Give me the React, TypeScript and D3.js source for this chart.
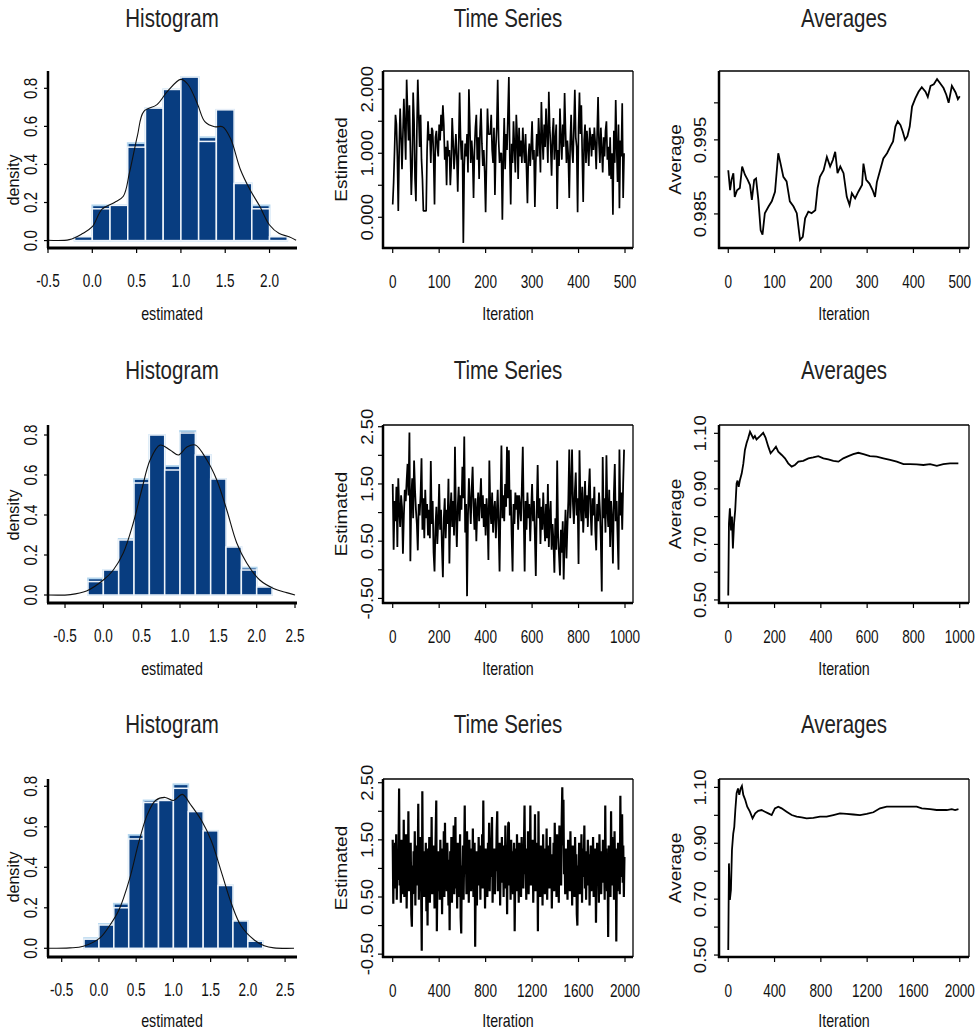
import React, { useEffect, useRef } from 'react';
import * as d3 from 'd3';

// histogram bins (shared by all three rows)
const binEdges = [-0.2, 0, 0.2, 0.4, 0.6, 0.8, 1.0, 1.2, 1.4, 1.6, 1.8, 2.0, 2.2];

const histOutline1 = [0.02, 0.185, 0.185, 0.512, 0.696, 0.794, 0.859, 0.543, 0.687, 0.30, 0.185, 0.02];
const histFill1 = [0.02, 0.167, 0.185, 0.491, 0.696, 0.794, 0.859, 0.521, 0.687, 0.30, 0.167, 0.02];
const histOutline2 = [0.083, 0.125, 0.28, 0.58, 0.80, 0.645, 0.82, 0.70, 0.58, 0.24, 0.137, 0.04];
const histFill2 = [0.067, 0.125, 0.275, 0.56, 0.80, 0.625, 0.81, 0.70, 0.58, 0.24, 0.125, 0.04];
const histOutline3 = [0.05, 0.12, 0.22, 0.56, 0.73, 0.73, 0.81, 0.675, 0.58, 0.31, 0.135, 0.035];
const histFill3 = [0.045, 0.115, 0.20, 0.54, 0.72, 0.73, 0.79, 0.675, 0.58, 0.31, 0.135, 0.035];

// kernel density curves [x, density]
const dens1 = [[-0.5, 0.002], [-0.26, 0.005], [-0.11, 0.037], [0.0, 0.073], [0.11, 0.165], [0.25, 0.2], [0.35, 0.233],
  [0.42, 0.358], [0.51, 0.553], [0.58, 0.678], [0.73, 0.714], [0.85, 0.785], [1.0, 0.847], [1.08, 0.82], [1.19, 0.714],
  [1.27, 0.625], [1.38, 0.598], [1.47, 0.598], [1.56, 0.536], [1.67, 0.375], [1.78, 0.267], [1.89, 0.18], [2.0, 0.082],
  [2.11, 0.037], [2.22, 0.02], [2.3, 0.002]];
const dens2 = [[-0.72, 0], [-0.43, 0.002], [-0.22, 0.02], [0.0, 0.075], [0.13, 0.125], [0.26, 0.21], [0.39, 0.36],
  [0.5, 0.525], [0.61, 0.675], [0.74, 0.75], [0.87, 0.725], [0.98, 0.70], [1.09, 0.74], [1.2, 0.75], [1.35, 0.675],
  [1.48, 0.575], [1.61, 0.425], [1.74, 0.26], [1.87, 0.16], [2.04, 0.075], [2.22, 0.033], [2.39, 0.012], [2.5, 0.0]];
const dens3 = [[-0.68, 0], [-0.39, 0.002], [-0.21, 0.01], [0.01, 0.05], [0.14, 0.11], [0.27, 0.19], [0.41, 0.34],
  [0.54, 0.53], [0.65, 0.66], [0.76, 0.73], [0.89, 0.745], [1.0, 0.73], [1.12, 0.76], [1.23, 0.71], [1.38, 0.63],
  [1.51, 0.53], [1.65, 0.37], [1.78, 0.22], [1.91, 0.11], [2.09, 0.04], [2.22, 0.013], [2.35, 0.002], [2.62, 0]];

// sampled chains (one value every traceStep iterations)
const traceStep1 = 2;
const trace1 = [
  0.20, 0.55, 1.05, 1.60, 1.45, 0.95, 0.10, 1.10, 1.70, 1.25,
  0.75, 1.30, 1.85, 1.40, 0.90, 2.15, 1.65, 1.20, 1.75, 1.05,
  0.35, 0.80, 1.95, 1.50, 0.60, 0.25, 1.35, 2.15, 1.60, 1.10,
  1.60, 0.90, 0.60, 0.10, 0.10, 0.10, 0.10, 1.05, 1.50, 1.20,
  1.30, 0.85, 1.40, 1.35, 0.95, 0.20, 1.25, 1.35, 1.10, 0.95,
  1.45, 1.20, 1.60, 1.35, 1.75, 1.45, 0.90, 1.10, 0.50, 1.20,
  0.95, 1.05, 0.50, 0.85, 1.55, 1.20, 0.75, 1.00, 1.30, 0.95,
  0.40, 1.10, 1.95, 1.25, 0.90, 1.20, -0.40, 0.80, 1.15, 0.95,
  1.30, 0.70, 2.00, 1.45, 0.85, 1.20, 0.95, 0.30, 1.05, 1.40,
  1.60, 0.90, 1.25, 0.60, 1.35, 1.70, 1.15, 0.80, 1.05, 0.70,
  0.08, 0.90, 1.70, 1.30, 1.30, 1.30, 1.60, 1.05, 0.85, 1.40,
  0.35, 1.10, 1.40, 2.15, 1.20, 0.85, 1.00, 1.00, -0.04, 0.90,
  1.55, 0.75, 1.30, 1.05, 1.60, 2.19, 0.95, 0.20, 1.15, 0.85,
  1.50, 1.10, 0.70, 1.60, 1.25, 0.60, 1.40, 0.95, 1.20, 0.85,
  1.40, 1.05, 0.85, 1.30, 0.75, 0.22, 0.95, 1.15, 0.80, 1.10,
  1.50, 0.90, 1.05, 0.16, 0.85, 1.30, 0.95, 1.55, 1.20, 0.70,
  1.80, 1.25, 0.90, 1.45, 1.10, 1.70, 1.30, 0.85, 1.96, 1.40,
  1.10, 0.65, 1.30, 1.55, 0.90, 1.20, 1.45, 0.13, 1.05, 0.80,
  1.70, 1.25, 0.90, 1.45, 1.10, 1.94, 1.35, 0.85, 1.20, 0.95,
  0.30, 1.15, 1.60, 1.05, 0.85, 1.40, 1.99, 1.25, 1.10, 0.08,
  1.40, 1.95, 1.30, 1.75, 0.95, 0.24, 1.20, 1.45, 0.85, 1.35,
  1.10, 0.80, 1.40, 1.25, 0.95, 1.30, 1.05, 1.40, 1.15, 0.75,
  1.30, 1.88, 1.15, 0.85, 1.40, 1.05, 0.70, 1.25, 0.95, 1.35,
  1.50, 0.90, 1.10, 0.65, 1.25, 0.60, 1.00, 0.04, 1.35, 0.85,
  1.83, 1.10, 0.55, 1.45, 0.14, 1.20, 0.95, 1.78, 0.30, 1.00];

const traceStep2 = 4;
const trace2 = [
  1.50, 0.35, 1.20, 0.85, 1.45, 0.40, 1.60, 1.05, 0.75, 1.30,
  1.10, 0.28, 0.95, 1.40, 1.20, 1.55, 1.85, 1.30, 2.40, 0.15,
  1.25, 1.60, 0.90, 1.91, 1.40, 1.05, 0.80, 0.34, 1.15, 0.95,
  1.30, 1.95, 0.70, 1.25, 0.55, 1.40, 0.90, 1.15, 0.60, 1.05,
  0.55, 1.90, 0.80, 1.20, 0.30, -0.03, 0.75, 1.10, 0.45, 0.85,
  1.50, 0.70, 1.05, 0.40, -0.13, 0.90, 1.25, 0.55, 1.05, 0.80,
  1.59, 0.11, 1.00, 1.35, 0.75, 1.20, 0.60, 2.15, 0.95, 0.40,
  1.10, 1.45, 0.85, 1.30, 1.05, 1.80, 1.25, 2.33, 0.65, 1.15,
  -0.46, 0.95, 1.60, 1.20, 0.80, 1.40, 1.80, 1.10, 0.70, 1.25,
  0.50, 1.05, 1.35, 0.85, 1.20, 1.60, 0.90, 1.30, 0.75, 1.15,
  0.60, 1.25, 0.95, 0.17, 1.91, 1.10, 0.80, 1.35, 0.65, 1.05,
  1.20, 0.55, 1.00, 1.40, 0.75, -0.03, 1.15, 2.17, 0.90, 1.30,
  0.85, 1.50, 1.10, 2.15, 1.25, 2.09, 0.95, 1.40, 0.60, -0.03,
  1.15, 0.80, 1.35, 1.05, 1.30, 0.70, 1.30, 1.10, 0.85, 1.45,
  2.15, 0.95, -0.03, 1.20, 0.70, 1.35, 0.90, 1.15, 0.50, 1.05,
  1.50, 0.85, 1.20, 0.60, -0.11, 1.05, 1.83, 0.90, 1.25, 0.45,
  1.10, 0.70, 1.35, 0.85, 0.50, 1.15, 0.55, 1.50, 0.40, 0.95,
  1.20, 0.35, 0.80, 0.50, -0.05, 0.90, 0.35, 1.91, 0.60, 0.25,
  -0.10, 0.70, 0.30, 0.85, -0.17, 0.55, 1.05, 0.20, 0.75, 1.20,
  2.10, 0.90, 1.40, 2.10, 1.15, 0.80, 1.35, 1.70, 0.95, 1.25,
  0.10, 2.09, 1.20, 0.85, 1.45, 0.65, 1.10, 1.55, 0.90, 1.30,
  0.75, 1.40, 1.77, 1.00, 0.60, 1.25, 0.95, 1.45, 0.70, 0.34,
  1.15, 0.85, 1.35, 1.05, 0.50, -0.38, 1.97, 0.90, 1.25, 0.65,
  2.00, 1.05, 0.75, 1.40, 0.40, 1.20, 0.90, 0.11, 1.30, 1.85,
  0.85, 1.20, 0.60, 0.00, 2.10, 0.95, 1.35, 0.70, 1.50, 2.10];

const traceStep3 = 5;
const trace3 = [
  1.50, 0.38, 1.20, 0.65, 1.45, 0.90, 1.60, 0.45, 1.10, 0.80,
  1.30, 2.40, 0.70, 1.15, 0.40, 1.50, 0.95, 1.25, 0.55, 1.85,
  0.50, 1.35, 0.85, 1.60, 0.30, 1.10, 0.75, 2.00, 0.60, 1.20,
  0.90, 1.45, 0.20, -0.02, 1.05, 0.55, 1.30, 0.80, 1.65, 0.35,
  1.15, 0.70, 1.40, 0.95, 2.13, 0.45, 1.25, 0.85, 1.55, 0.60,
  -0.44, 2.35, 0.75, 1.30, 0.50, 1.10, 0.90, 1.45, 0.25, 1.20,
  0.00, 1.35, 0.80, 1.55, 0.40, 1.15, 0.70, 1.90, 0.55, 1.25,
  0.95, 1.40, 0.30, 1.05, 1.60, 2.19, -0.10, 0.85, 1.30, 0.60,
  1.20, 0.45, 1.50, 0.90, 1.35, 0.20, 1.10, 0.75, 1.65, 0.50,
  1.80, 0.85, 1.25, 0.60, 1.45, 0.95, 0.35, 1.15, -0.08, 1.30,
  0.70, 1.55, 0.40, 1.20, 0.85, 1.75, 0.55, 1.35, 1.90, 0.65,
  1.10, 0.30, 1.45, 0.80, 1.25, 0.50, 1.60, 0.15, -0.14, 1.05,
  0.75, 1.40, 0.45, 1.20, 2.10, 0.90, 1.30, 0.55, 1.65, 0.85,
  1.15, 0.40, 1.50, 0.95, 1.25, 0.60, 1.35, 0.80, 1.70, 0.50,
  1.05, 1.45, -0.37, 0.85, 1.30, 0.35, 1.15, 0.70, 1.55, 0.90,
  1.25, 0.45, 1.40, 0.95, 1.60, 0.65, 2.19, 0.80, 1.20, 0.30,
  1.35, 0.75, 1.10, 0.50, 1.45, 0.90, 1.80, 0.60, 1.25, 0.85,
  1.50, 1.90, 0.40, 1.15, 0.70, 1.35, 0.55, 1.20, 0.95, 1.65,
  2.00, 0.60, 1.30, 0.85, 1.45, 0.35, 1.10, 0.75, 1.55, 0.90,
  1.25, 0.50, 1.40, 0.80, 1.75, 0.65, 1.15, 0.20, 1.35, 1.80,
  1.80, 0.70, 1.20, 0.45, 1.50, 0.90, 1.30, 0.55, 1.05, 1.45,
  -0.10, 0.85, 1.35, 0.60, 1.60, 0.95, 1.20, 0.40, 1.45, 0.75,
  1.10, 0.50, 1.55, 0.85, 1.30, 0.65, 1.40, 2.10, 0.90, 1.20,
  0.45, 1.35, 0.80, 1.65, 0.55, 1.15, 0.95, 2.10, 0.70, 1.25,
  0.85, 1.50, 0.40, 1.20, 0.75, 1.95, 0.60, 1.30, 0.95, 1.45,
  -0.10, 2.00, 0.70, 1.10, 0.50, 1.40, 0.85, 1.25, 0.35, 1.60,
  0.90, 1.35, 0.55, 1.15, 0.80, 1.70, 0.45, 1.20, 0.95, 1.40,
  0.65, 1.55, 0.85, 1.25, 0.30, 1.10, 0.75, 1.45, 0.60, 1.80,
  0.95, 1.30, 0.50, 1.60, 0.80, 1.20, 0.40, 1.75, 1.05, 1.50,
  0.70, 1.85, 2.42, 1.40, 2.20, 0.90, 1.25, 0.55, 1.35, 0.80,
  1.15, 0.45, 1.50, 0.85, 1.30, 0.60, 1.65, 0.95, 1.20, 0.35,
  1.40, 0.75, 1.10, 0.50, 1.55, 0.90, 1.25, 0.20, 0.00, 1.05,
  0.80, 1.45, 0.55, 1.20, 0.95, 1.60, 0.40, 1.35, 0.85, 1.15,
  1.75, 0.65, 1.30, 0.45, 1.15, 0.90, 1.50, 0.70, 1.25, 0.35,
  1.05, 1.40, 0.60, 1.20, 0.80, 1.55, 0.50, 1.10, 0.95, 1.35,
  0.05, 0.85, 1.45, 0.70, 1.25, 0.40, 1.60, 0.90, 1.15, 0.55,
  1.30, 0.75, 1.50, 0.95, 1.20, 0.45, 2.10, 0.80, 1.35, 0.60,
  1.10, -0.20, 1.40, 0.85, 1.25, 0.50, 2.00, 0.70, 1.55, 0.95,
  1.20, 0.45, 1.65, 0.80, 1.35, -0.28, 1.05, 0.60, 1.45, 0.90,
  1.30, 0.55, 2.27, 0.85, 1.60, 1.95, 0.75, 1.40, 0.50, 1.20];

// running averages [iteration, average]
const avg1 = [[0, 0.9909], [4, 0.9882], [7, 0.9896], [11, 0.9905], [14, 0.9873], [19, 0.9882], [25, 0.9885],
  [30, 0.9914], [36, 0.9903], [42, 0.9896], [47, 0.9889], [51, 0.9869], [56, 0.9896], [60, 0.9898], [65, 0.9869],
  [70, 0.9828], [74, 0.9822], [79, 0.9851], [87, 0.986], [94, 0.9867], [101, 0.988], [108, 0.9932], [113, 0.9918],
  [119, 0.99], [126, 0.9894], [133, 0.9867], [141, 0.986], [148, 0.9851], [155, 0.9815], [161, 0.9819],
  [166, 0.9844], [173, 0.9853], [180, 0.9851], [188, 0.9855], [193, 0.9885], [198, 0.99], [206, 0.9909],
  [213, 0.9927], [220, 0.9914], [226, 0.9923], [231, 0.9934], [236, 0.9905], [242, 0.9914], [249, 0.9905],
  [256, 0.9873], [262, 0.9862], [267, 0.9878], [274, 0.9871], [281, 0.988], [289, 0.9889], [292, 0.9918],
  [298, 0.9896], [305, 0.9891], [312, 0.9882], [317, 0.9873], [321, 0.9893], [328, 0.9909], [335, 0.9925],
  [343, 0.9932], [350, 0.9941], [356, 0.9948], [361, 0.9968], [366, 0.9975], [372, 0.997], [377, 0.9961],
  [382, 0.995], [387, 0.9955], [392, 0.9968], [397, 0.9995], [404, 1.0006], [411, 1.0015], [418, 1.0021],
  [426, 1.0015], [431, 1.0008], [437, 1.0023], [444, 1.0025], [451, 1.0032], [458, 1.0026], [465, 1.002],
  [471, 1.0011], [476, 1.0], [483, 1.0023], [491, 1.0014], [496, 1.0005], [500, 1.0009]];
const avg2 = [[0, 0.516], [3, 0.775], [7, 0.83], [12, 0.75], [16, 0.8], [20, 0.685], [25, 0.775], [30, 0.823],
  [36, 0.92], [40, 0.93], [45, 0.907], [50, 0.93], [58, 0.955], [65, 0.99], [72, 1.04], [79, 1.064], [86, 1.082],
  [94, 1.106], [101, 1.094], [108, 1.082], [115, 1.09], [122, 1.078], [137, 1.09], [151, 1.102], [161, 1.085],
  [173, 1.052], [183, 1.028], [195, 1.04], [206, 1.052], [216, 1.034], [231, 1.022], [245, 1.01], [259, 0.992],
  [274, 0.98], [288, 0.986], [303, 0.998], [324, 1.001], [346, 1.01], [367, 1.013], [389, 1.018], [411, 1.01],
  [432, 1.006], [454, 1.001], [476, 0.998], [497, 1.01], [519, 1.018], [540, 1.025], [562, 1.03], [584, 1.025],
  [612, 1.018], [641, 1.016], [670, 1.01], [699, 1.004], [728, 0.998], [757, 0.989], [785, 0.989], [814, 0.988],
  [843, 0.986], [872, 0.989], [901, 0.983], [929, 0.989], [958, 0.992], [994, 0.992]];
const avg3 = [[0, 0.518], [6, 0.828], [14, 0.697], [23, 0.733], [32, 0.876], [43, 0.935], [52, 0.959],
  [61, 1.019], [72, 1.079], [84, 1.096], [95, 1.073], [107, 1.096], [118, 1.105], [130, 1.073], [147, 1.055],
  [164, 1.031], [187, 1.013], [210, 0.989], [233, 1.007], [259, 1.016], [288, 1.019], [317, 1.013], [346, 1.007],
  [375, 1.001], [403, 1.025], [432, 1.031], [461, 1.025], [504, 1.013], [548, 1.001], [591, 0.995], [634, 0.993],
  [677, 0.989], [735, 0.991], [793, 0.995], [850, 0.995], [908, 1.001], [965, 1.007], [1023, 1.005],
  [1081, 1.003], [1138, 1.001], [1196, 1.005], [1254, 1.011], [1311, 1.025], [1369, 1.031], [1455, 1.031],
  [1542, 1.031], [1628, 1.031], [1672, 1.025], [1744, 1.022], [1801, 1.019], [1888, 1.019], [1931, 1.022],
  [1960, 1.019], [1989, 1.022]];

// axis ticks
const histXTicks1 = [-0.5, 0, 0.5, 1.0, 1.5, 2.0];
const histXTicks23 = [-0.5, 0, 0.5, 1.0, 1.5, 2.0, 2.5];
const histYTicks = [0, 0.2, 0.4, 0.6, 0.8];
const tsXTicks1 = [0, 100, 200, 300, 400, 500];
const tsXTicks2 = [0, 200, 400, 600, 800, 1000];
const tsXTicks3 = [0, 400, 800, 1200, 1600, 2000];
const tsYTicks1 = [0, 0.5, 1.0, 1.5, 2.0];
const tsYLabels1 = [0, 1.0, 2.0];
const tsYTicks23 = [-0.5, 0, 0.5, 1.0, 1.5, 2.0, 2.5];
const tsYLabels23 = [-0.5, 0.5, 1.5, 2.5];
const avgYTicks1 = [0.985, 0.99, 0.995, 1.0];
const avgYLabels1 = [0.985, 0.995];
const avgYTicks23 = [0.5, 0.6, 0.7, 0.8, 0.9, 1.0, 1.1];
const avgYLabels23 = [0.5, 0.7, 0.9, 1.1];

const FONT = "'Liberation Sans', Arial, sans-serif";
const BAR = '#083d80';

const App = () => {
  const svgRef = useRef(null);

  useEffect(() => {
    document.body.style.margin = '0';
    const svg = d3.select(svgRef.current);
    svg.selectAll('*').remove();

    const hText = (x, y, str, size, sx, fill = '#111') =>
      svg.append('text')
        .attr('transform', `translate(${x},${y}) scale(${sx},1)`)
        .attr('text-anchor', 'middle')
        .style('font-family', FONT)
        .style('font-size', `${size}px`)
        .attr('fill', fill)
        .text(str);

    const vText = (x, y, str, size, sAlong, sThick = 0.85) =>
      svg.append('text')
        .attr('transform', `translate(${x},${y}) rotate(-90) scale(${sAlong},${sThick})`)
        .attr('text-anchor', 'middle')
        .style('font-family', FONT)
        .style('font-size', `${size}px`)
        .attr('fill', '#111')
        .text(str);

    const tops = [71, 425, 779];
    const bottoms = [248, 603, 957];
    const titleY = [27, 379, 733];
    const xTitleY = [320, 675, 1027];

    // ---------- histograms ----------
    const hists = [
      { xd: [-0.5, 2.31], yd: [-0.039, 0.891], xt: histXTicks1, outline: histOutline1, fill: histFill1, dens: dens1, labY: 180 },
      { xd: [-0.722, 2.526], yd: [-0.04, 0.85], xt: histXTicks23, outline: histOutline2, fill: histFill2, dens: dens2, labY: 515 },
      { xd: [-0.684, 2.66], yd: [-0.043, 0.836], xt: histXTicks23, outline: histOutline3, fill: histFill3, dens: dens3, labY: 877 },
    ];

    hists.forEach((h, r) => {
      const top = tops[r];
      const bottom = bottoms[r];
      const x = d3.scaleLinear().domain(h.xd).range([48, 297]);
      const y = d3.scaleLinear().domain(h.yd).range([bottom, top]);
      const g = svg.append('g');

      const bins = h.outline.map((v, i) => ({ x0: binEdges[i], x1: binEdges[i + 1], o: v, f: h.fill[i] }));

      g.selectAll('rect.outline')
        .data(bins)
        .join('rect')
        .attr('class', 'outline')
        .attr('x', d => x(d.x0))
        .attr('y', d => y(d.o))
        .attr('width', d => x(d.x1) - x(d.x0))
        .attr('height', d => y(0) - y(d.o))
        .attr('fill', BAR)
        .attr('stroke', '#b4d6ee')
        .attr('stroke-width', 1.8);

      g.selectAll('rect.fill')
        .data(bins)
        .join('rect')
        .attr('class', 'fill')
        .attr('x', d => x(d.x0))
        .attr('y', d => y(d.f))
        .attr('width', d => x(d.x1) - x(d.x0))
        .attr('height', d => y(0) - y(d.f))
        .attr('fill', BAR)
        .attr('stroke', '#eef4fa')
        .attr('stroke-width', 1.5);

      const line = d3.line().x(d => x(d[0])).y(d => y(d[1])).curve(d3.curveCatmullRom);
      g.append('path')
        .attr('d', line(h.dens))
        .attr('fill', 'none')
        .attr('stroke', '#111')
        .attr('stroke-width', 1.1);

      // axes
      g.append('line').attr('x1', 48).attr('x2', 48).attr('y1', top).attr('y2', bottom)
        .attr('stroke', '#000').attr('stroke-width', 2.5);
      g.append('line').attr('x1', 47).attr('x2', 297).attr('y1', bottom).attr('y2', bottom)
        .attr('stroke', '#000').attr('stroke-width', 3);

      histYTicks.forEach(t => {
        g.append('line').attr('x1', 44).attr('x2', 48).attr('y1', y(t)).attr('y2', y(t))
          .attr('stroke', '#000').attr('stroke-width', 1.2);
        vText(37, y(t), t.toFixed(1), 19, 0.8, 0.95);
      });
      h.xt.forEach(t => {
        g.append('line').attr('x1', x(t)).attr('x2', x(t)).attr('y1', bottom).attr('y2', bottom + 5)
          .attr('stroke', '#000').attr('stroke-width', 1.2);
        hText(x(t), bottom + 39, t.toFixed(1), 18.6, 0.73);
      });

      hText(172, titleY[r], 'Histogram', 25, 0.82, '#222');
      hText(172, xTitleY[r], 'estimated', 19, 0.75);
      vText(19, h.labY, 'density', 19, 0.85, 0.9);
    });

    // ---------- time series + averages ----------
    const panelBox = (left, right, top, bottom) => {
      svg.append('line').attr('x1', left).attr('x2', right).attr('y1', top).attr('y2', top)
        .attr('stroke', '#000').attr('stroke-width', 1.3);
      svg.append('line').attr('x1', right).attr('x2', right).attr('y1', top).attr('y2', bottom)
        .attr('stroke', '#000').attr('stroke-width', 1.3);
      svg.append('line').attr('x1', left).attr('x2', left).attr('y1', top).attr('y2', bottom + 1)
        .attr('stroke', '#000').attr('stroke-width', 2.5);
      svg.append('line').attr('x1', left - 1).attr('x2', right).attr('y1', bottom).attr('y2', bottom)
        .attr('stroke', '#000').attr('stroke-width', 2.5);
    };

    const series = [
      {
        xd: [-20.9, 517.2], yd: [-0.48, 2.285], xt: tsXTicks1, yt: tsYTicks1, yl: tsYLabels1, dec: 3, sw: 1.7,
        pts: trace1.map((v, i) => [i * traceStep1, v]),
        ad: [0.9804, 1.0043], at: avgYTicks1, al: avgYLabels1, adec: 3, avg: avg1, axd: [-20, 520],
      },
      {
        xd: [-41.8, 1034.4], yd: [-0.58, 2.53], xt: tsXTicks2, yt: tsYTicks23, yl: tsYLabels23, dec: 2, sw: 1.8,
        pts: trace2.map((v, i) => [i * traceStep2, v]),
        ad: [0.489, 1.13], at: avgYTicks23, al: avgYLabels23, adec: 2, avg: avg2, axd: [-40, 1040],
      },
      {
        xd: [-83.6, 2068.8], yd: [-0.55, 2.565], xt: tsXTicks3, yt: tsYTicks23, yl: tsYLabels23, dec: 2, sw: 2.2,
        pts: trace3.map((v, i) => [i * traceStep3, v]),
        ad: [0.493, 1.13], at: avgYTicks23, al: avgYLabels23, adec: 2, avg: avg3, axd: [-80, 2080],
      },
    ];

    series.forEach((s, r) => {
      const top = tops[r];
      const bottom = bottoms[r];

      // time series
      {
        const left = 383, right = 633;
        const x = d3.scaleLinear().domain(s.xd).range([left, right]);
        const y = d3.scaleLinear().domain(s.yd).range([bottom, top]);
        const line = d3.line().x(d => x(d[0])).y(d => y(d[1]));
        svg.append('path')
          .attr('d', line(s.pts))
          .attr('fill', 'none')
          .attr('stroke', '#000')
          .attr('stroke-width', s.sw)
          .attr('stroke-linejoin', 'miter')
          .attr('stroke-miterlimit', 1);
        panelBox(left, right, top, bottom);
        s.xt.forEach(t => {
          svg.append('line').attr('x1', x(t)).attr('x2', x(t)).attr('y1', bottom).attr('y2', bottom + 5)
            .attr('stroke', '#000').attr('stroke-width', 1.2);
          hText(x(t), bottom + 40, String(t), 18.6, 0.73);
        });
        s.yt.forEach(t => {
          svg.append('line').attr('x1', left - 5).attr('x2', left).attr('y1', y(t)).attr('y2', y(t))
            .attr('stroke', '#000').attr('stroke-width', 1.2);
        });
        s.yl.forEach(t => vText(373, y(t), t.toFixed(s.dec), 19, 0.98));
        hText(508, titleY[r], 'Time Series', 25, 0.82, '#222');
        hText(508, xTitleY[r], 'Iteration', 19, 0.75);
        vText(347, (top + bottom) / 2, 'Estimated', 19, 1.0);
      }

      // averages
      {
        const left = 719, right = 969;
        const x = d3.scaleLinear().domain(s.axd).range([left, right]);
        const y = d3.scaleLinear().domain(s.ad).range([bottom, top]);
        const line = d3.line().x(d => x(d[0])).y(d => y(d[1]));
        svg.append('path')
          .attr('d', line(s.avg))
          .attr('fill', 'none')
          .attr('stroke', '#000')
          .attr('stroke-width', 1.8);
        panelBox(left, right, top, bottom);
        s.xt.forEach(t => {
          svg.append('line').attr('x1', x(t)).attr('x2', x(t)).attr('y1', bottom).attr('y2', bottom + 5)
            .attr('stroke', '#000').attr('stroke-width', 1.2);
          hText(x(t), bottom + 40, String(t), 18.6, 0.73);
        });
        s.at.forEach(t => {
          svg.append('line').attr('x1', left - 5).attr('x2', left).attr('y1', y(t)).attr('y2', y(t))
            .attr('stroke', '#000').attr('stroke-width', 1.2);
        });
        s.al.forEach(t => vText(706, y(t), t.toFixed(s.adec), 19, 0.98));
        hText(844, titleY[r], 'Averages', 25, 0.82, '#222');
        hText(844, xTitleY[r], 'Iteration', 19, 0.75);
        vText(681, (top + bottom) / 2, 'Average', 19, 1.0);
      }
    });
  }, []);

  return <svg ref={svgRef} width={980} height={1032} style={{ display: 'block', background: '#fff' }} />;
};

export default App;
